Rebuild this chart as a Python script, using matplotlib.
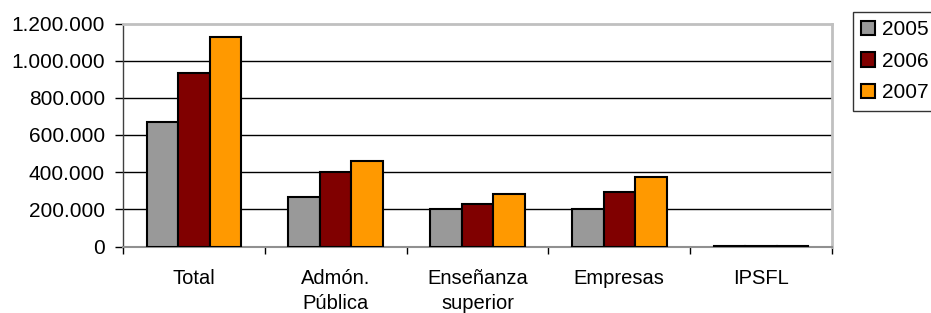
import matplotlib
matplotlib.use("Agg")
import matplotlib.pyplot as plt
import numpy as np
from matplotlib.ticker import FuncFormatter, FixedLocator
from matplotlib.patches import Patch

categories = ["Total", "Admón.\nPública", "Enseñanza\nsuperior", "Empresas", "IPSFL"]
years = ["2005", "2006", "2007"]
v2005 = [668000, 265000, 200000, 200000, 1500]
v2006 = [935000, 403000, 227000, 295000, 3000]
v2007 = [1126000, 461000, 285000, 376000, 3000]
colors = ["#999999", "#800000", "#FF9900"]

plt.rcParams['font.family'] = ['Liberation Sans', 'DejaVu Sans']

fig = plt.figure(figsize=(9.31, 3.13), dpi=100)
ax = fig.add_axes([123/931, 1-246.5/313, (832-123)/931, (246.5-23.5)/313])

x = np.arange(len(categories))
w = 0.222
for i, (vals, c) in enumerate(zip([v2005, v2006, v2007], colors)):
    ax.bar(x + (i-1)*w, vals, width=w, color=c, edgecolor='black', linewidth=1.5, zorder=3)

ax.set_xlim(-0.5, len(categories)-0.5)
ax.set_ylim(0, 1200000)
ax.set_yticks(np.arange(0, 1200001, 200000))
ax.yaxis.set_major_formatter(FuncFormatter(lambda v, p: f"{int(v):,}".replace(",", ".")))
for yv in range(200000, 1200000, 200000):
    ax.axhline(yv, color='black', linewidth=1, zorder=1)

ax.set_xticks(x)
ax.set_xticklabels(categories, fontsize=14.5, linespacing=1.45)
ax.tick_params(axis='x', length=0, pad=16)
ax.xaxis.set_minor_locator(FixedLocator(np.arange(-0.5, len(categories), 1.0)))
ax.tick_params(axis='x', which='minor', length=5, direction='out', color='black', width=1)
ax.tick_params(axis='y', length=6, direction='out', color='black', width=1, labelsize=15, pad=7)

for s in ['top', 'right']:
    ax.spines[s].set_color('#c0c0c0')
    ax.spines[s].set_linewidth(2)
ax.spines['left'].set_color('#404040')
ax.spines['left'].set_linewidth(1)
ax.spines['bottom'].set_color('#909090')
ax.spines['bottom'].set_linewidth(1.5)

handles = [Patch(facecolor=c, edgecolor='black', linewidth=1.5) for c in colors]
leg = fig.legend(handles, years, loc='upper left', bbox_to_anchor=(853/931, 1-12/313),
                 borderaxespad=0, frameon=True, fancybox=False, fontsize=15,
                 handlelength=0.67, handleheight=0.67, handletextpad=0.32,
                 labelspacing=0.6, borderpad=0.4)
leg.get_frame().set_edgecolor('black')
leg.get_frame().set_linewidth(1)

fig.savefig("out.png", dpi=100)
